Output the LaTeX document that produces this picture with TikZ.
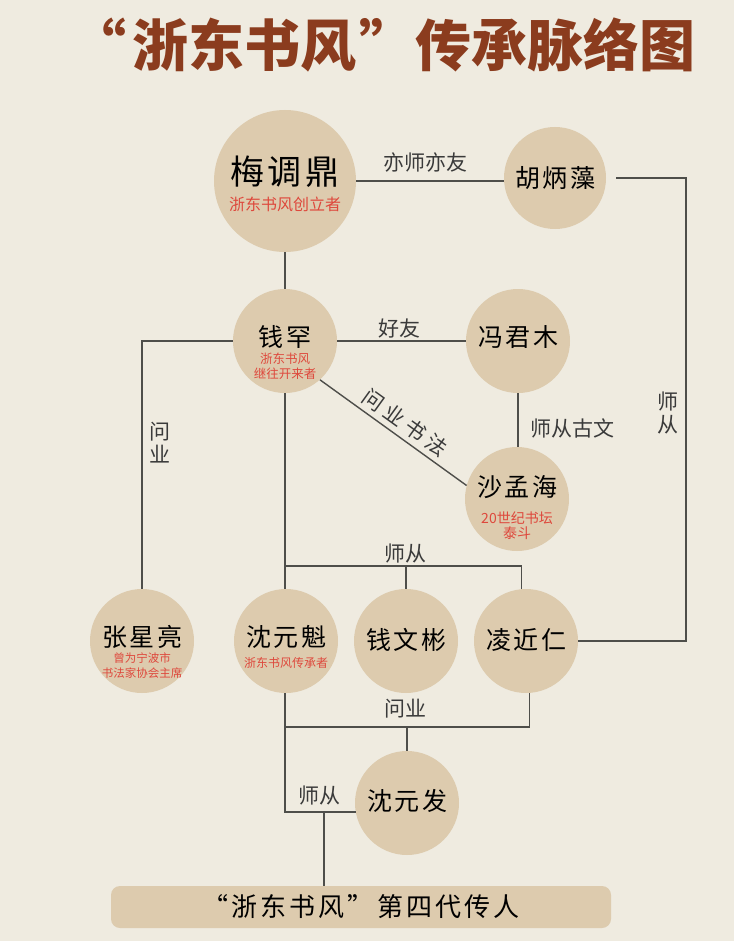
\documentclass[tikz,border=0pt]{standalone}
\usepackage{fontspec}
\setmainfont{Noto Sans CJK SC}
\newfontfamily\cjk{Noto Sans CJK SC}
\newfontfamily\namefont{Noto Sans CJK SC}[LetterSpace=10]
\newfontfamily\bannerfont{Noto Sans CJK SC}[LetterSpace=12]
\newfontfamily\diagfont{Noto Sans CJK SC}[LetterSpace=22]
\definecolor{bg}{RGB}{239,235,224}
\definecolor{disc}{RGB}{221,203,174}
\definecolor{ttl}{RGB}{139,60,30}
\definecolor{subred}{RGB}{222,72,60}
\definecolor{ln}{RGB}{78,78,74}
\definecolor{lab}{RGB}{58,58,58}
\tikzset{
  person/.style={circle, fill=disc, inner sep=0pt, minimum size=104pt},
  bigperson/.style={circle, fill=disc, inner sep=0pt, minimum size=142pt},
  nm/.style={font=\namefont\fontsize{#1}{#1}\selectfont, text=black, inner sep=0pt},
  nm/.default=25,
  sb/.style n args={2}{font=\cjk\fontsize{#1}{#2}\selectfont, text=subred, align=center, inner sep=0pt},
  lb/.style={font=\cjk\fontsize{21}{23}\selectfont, text=lab, inner sep=1pt, align=center},
  conn/.style={draw=ln, line width=1.4pt}
}
\begin{document}
\begin{tikzpicture}[x=1pt,y=-1pt]
\fill[bg] (0,0) rectangle (734,941);
\useasboundingbox (0,0) rectangle (734,941);

% title
\node[font=\cjk\bfseries\fontsize{56}{56}\selectfont, text=ttl, inner sep=0pt] (title) at (383,45) {“\hspace{6pt}浙东书风\hspace{3pt}”传承脉络图};

% persons
\node[bigperson] (mei) at (285,181) {};
\node[nm=34] (meiN) at (285,172) {梅调鼎};
\node[sb={16}{18}] (meiS) at (285,204) {浙东书风创立者};

\node[person, minimum size=102pt] (hu) at (555,178) {};
\node[nm] (huN) at (555,178) {胡炳藻};

\node[person] (qian) at (285,341) {};
\node[nm] (qianN) at (285,337) {钱罕};
\node[sb={12.5}{14.5}] (qianS) at (285,366) {浙东书风\\继往开来者};

\node[person] (feng) at (518,341) {};
\node[nm] (fengN) at (518,337) {冯君木};

\node[person] (sha) at (517,499) {};
\node[nm] (shaN) at (517,487) {沙孟海};
\node[sb={14}{15}] (shaS) at (517,526) {20世纪书坛\\泰斗};

\node[person] (zhang) at (142,641) {};
\node[nm] (zhangN) at (142,637) {张星亮};
\node[sb={11.5}{15}] (zhangS) at (142,665.5) {曾为宁波市\\书法家协会主席};

\node[person] (shenk) at (286,641) {};
\node[nm] (shenkN) at (286,637) {沈元魁};
\node[sb={12}{14}] (shenkS) at (286,663) {浙东书风传承者};

\node[person] (qianwb) at (406,641) {};
\node[nm] (qianwbN) at (406,640) {钱文彬};

\node[person] (ling) at (526,641) {};
\node[nm] (lingN) at (526,640) {凌近仁};

\node[person] (shenf) at (407,803) {};
\node[nm] (shenfN) at (407,801) {沈元发};

\node[fill=disc, rounded corners=9pt, minimum width=500pt, minimum height=42pt, inner sep=0pt,
      font=\bannerfont\fontsize{26}{26}\selectfont, text=black] (banner) at (361,907) {“浙东书风”第四代传人};

% junction coordinates
\coordinate (rt) at (686,178);
\coordinate (j1) at (285,566);
\coordinate (j2) at (285,727);
\coordinate (j3) at (324,811);

% connectors
\draw[conn] (mei.east) -- (mei.east -| hu.west);
\draw[conn, shorten <=10pt] (hu.east) -- (rt) |- (ling.east);
\draw[conn] (mei.south) -- (qian.north);
\draw[conn] (qian.east) -- (feng.west);
\draw[conn] (qian.west) -| (zhang.north);
\draw[conn] (qian.-48) -- node[lb, font=\diagfont\fontsize{21}{23}\selectfont, sloped, above=4pt, pos=0.52] (lblDiag) {问业书法} (sha.165);
\draw[conn] (feng.south) -- (feng.south |- sha.north);
\draw[conn] (qian.south) -- (shenk.north -| qian.south);
\draw[conn] (j1) -| (ling.95);
\draw[conn] (qianwb.north |- j1) -- (qianwb.north);
\draw[conn] (shenk.south -| j2) -- (j2) -| (ling.-86);
\draw[conn] (shenf.north |- j2) -- (shenf.north);
\draw[conn] (j2) |- (shenf.190);
\draw[conn] (j3) -- (j3 |- banner.north);

% labels
\node[lb] (l1) at (425,163) {亦师亦友};
\node[lb] (l2) at (399,329) {好友};
\node[lb] (l3) at (572,428) {师从古文};
\node[lb] (l4) at (160,443) {问\\业};
\node[lb] (l5) at (668,413) {师\\从};
\node[lb] (l6) at (405,554) {师从};
\node[lb] (l7) at (405,709) {问业};
\node[lb] (l8) at (319,796) {师从};
\end{tikzpicture}
\end{document}
